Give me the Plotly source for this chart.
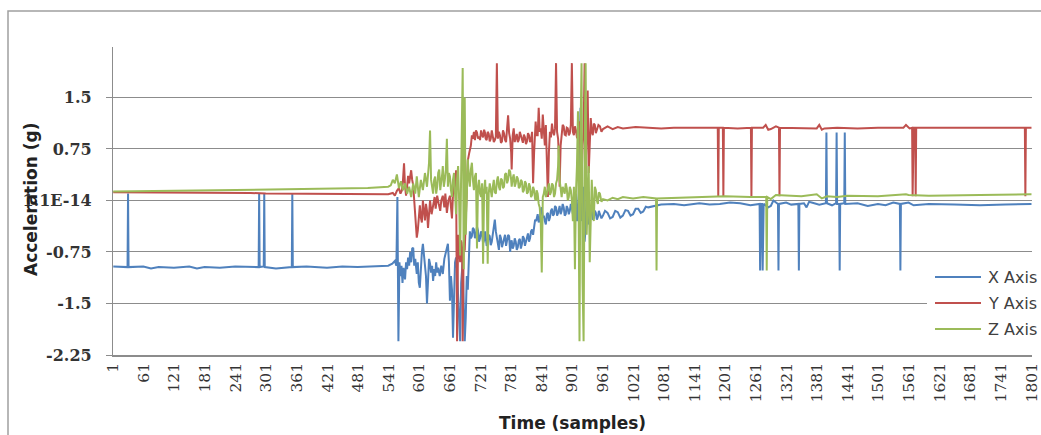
import plotly.graph_objects as go

# ---- data: (sample index, acceleration g) ----
X_AXIS = [
    (1, -0.96), (29, -0.97), (30, 0.1), (31, -0.97), (60, -0.96), (75, -0.99), (90, -0.97),
    (120, -0.98), (150, -0.96), (165, -0.99), (180, -0.97), (210, -0.98), (240, -0.96),
    (270, -0.97), (286, -0.97), (287, 0.1), (288, -0.97), (296, -0.96), (297, 0.1), (298, -0.97),
    (320, -0.99), (351, -0.97), (352, 0.1), (353, -0.97), (380, -0.96), (420, -0.98),
    (450, -0.96), (480, -0.97), (510, -0.96), (540, -0.95), (548, -0.92), (553, -0.88),
    (556, -0.95), (558, 0.05), (560, -2.05), (562, -0.9), (564, -1.1), (566, -0.95),
    (568, -1.2), (570, -0.98), (573, -1.15), (575, -0.9), (577, -1.0), (579, -0.83),
    (581, -0.95), (583, -0.75), (585, -0.9), (587, -0.7), (589, -0.69), (591, -0.95),
    (593, -0.85), (596, -1.07), (598, -0.9), (600, -1.2), (602, -1.27), (604, -0.9),
    (606, -0.75), (608, -0.63), (610, -0.8), (612, -0.88), (614, -1.1), (616, -1.5),
    (618, -1.0), (620, -0.85), (622, -0.92), (624, -1.05), (626, -0.95), (628, -1.17),
    (630, -1.0), (632, -1.1), (634, -0.9), (636, -1.05), (638, -0.98), (641, -1.1),
    (644, -0.95), (647, -1.07), (650, -0.85), (653, -0.75), (655, -0.7), (657, -0.63),
    (659, -0.9), (661, -1.46), (663, -1.1), (665, -1.3), (667, -2.0), (669, -1.2),
    (671, -0.9), (673, -0.83), (675, -1.0), (677, -1.4), (679, -1.7), (681, -2.05),
    (683, -1.2), (686, -0.88), (688, -1.5), (690, -2.05), (692, -1.7), (694, -1.1),
    (696, -1.3), (698, -0.8), (700, -0.45), (702, -0.55), (704, -0.52), (706, -0.4),
    (708, -0.42), (710, -0.55), (712, -0.5), (714, -0.38), (716, -0.44), (718, -0.6),
    (720, -0.55), (722, -0.45), (724, -0.48), (726, -0.62), (728, -0.58), (730, -0.45),
    (731, -0.5), (733, -0.66), (735, -0.62), (737, -0.5), (739, -0.52), (741, -0.65),
    (743, -0.6), (745, -0.48), (747, -0.4), (749, -0.28), (751, -0.45), (753, -0.55),
    (755, -0.6), (757, -0.72), (759, -0.5), (761, -0.55), (763, -0.68), (765, -0.62),
    (767, -0.52), (769, -0.5), (771, -0.66), (773, -0.6), (775, -0.5), (777, -0.52),
    (779, -0.75), (781, -0.6), (782, -0.58), (784, -0.7), (786, -0.66), (788, -0.55),
    (790, -0.6), (792, -0.72), (794, -0.68), (796, -0.58), (798, -0.56), (800, -0.7),
    (802, -0.64), (804, -0.52), (806, -0.55), (808, -0.66), (810, -0.6), (812, -0.5),
    (814, -0.48), (816, -0.6), (818, -0.55), (820, -0.45), (822, -0.42), (824, -0.5),
    (826, -0.38), (828, -0.28), (830, -0.3), (833, -0.2), (835, -0.32), (837, -0.28),
    (839, -0.15), (841, -0.1), (843, -0.25), (845, -0.22), (847, -0.3), (849, -0.35),
    (851, -0.2), (853, -0.18), (855, -0.3), (857, -0.25), (859, -0.15), (861, -0.12),
    (863, -0.22), (865, -0.2), (867, -0.08), (869, -0.1), (871, -0.22), (873, -0.18),
    (876, -0.08), (878, -0.2), (880, -0.15), (882, -0.05), (884, -0.1), (886, -0.22),
    (888, -0.2), (890, -0.08), (892, -0.12), (894, -0.2), (896, -0.15), (898, -0.05),
    (900, -0.1), (902, -0.2), (904, -0.05), (906, 0.05), (908, 0.1), (910, -0.3),
    (912, -0.2), (914, 0.2), (915, 0.6), (917, 1.35), (919, -0.3), (921, 0.0), (923, 0.2),
    (925, -0.6), (927, -0.4), (929, 0.1), (931, -0.1), (933, -0.35), (935, -0.3),
    (937, -0.1), (939, -0.15), (941, -0.28), (943, -0.25), (945, -0.15), (947, -0.18),
    (949, -0.28), (951, -0.24), (953, -0.15), (955, -0.2), (958, -0.26), (961, -0.22),
    (965, -0.15), (970, -0.18), (975, -0.26), (980, -0.24), (985, -0.15), (990, -0.17),
    (995, -0.25), (1000, -0.22), (1005, -0.14), (1010, -0.15), (1015, -0.22), (1020, -0.2),
    (1025, -0.12), (1030, -0.12), (1035, -0.18), (1040, -0.16), (1045, -0.09), (1050, -0.1),
    (1060, -0.08), (1075, -0.06), (1100, -0.05), (1120, -0.07), (1150, -0.04),
    (1170, -0.06), (1190, -0.05), (1210, -0.03), (1230, -0.04), (1250, -0.07),
    (1268, -0.05), (1269, -1.02), (1271, -0.05), (1273, -0.05), (1274, -1.02), (1276, -0.05),
    (1285, -0.1), (1290, -0.08), (1295, 0.0), (1304, -0.05), (1305, -1.02), (1306, -0.05),
    (1320, -0.03), (1330, -0.06), (1344, -0.05), (1345, -1.02), (1346, -0.05), (1355, -0.04),
    (1360, -0.1), (1365, -0.02), (1370, -0.03), (1385, -0.06), (1398, -0.04), (1399, 0.99),
    (1400, -0.04), (1410, -0.07), (1418, -0.04), (1419, 0.99), (1420, -0.05),
    (1424, -0.05), (1425, -1.02), (1426, -0.05), (1434, -0.04), (1435, 0.99), (1436, -0.05),
    (1460, -0.04), (1480, -0.08), (1500, -0.05), (1515, -0.07), (1530, -0.03),
    (1543, -0.05), (1544, -1.02), (1545, -0.05), (1560, -0.03), (1570, -0.07),
    (1600, -0.05), (1650, -0.06), (1700, -0.07), (1750, -0.06), (1801, -0.05),
]

Y_AXIS = [
    (1, 0.12), (100, 0.12), (200, 0.11), (270, 0.11), (300, 0.1), (400, 0.1), (500, 0.1),
    (540, 0.09), (549, 0.11), (553, 0.07), (557, 0.14), (561, 0.18), (564, 0.1),
    (567, 0.15), (569, 0.3), (571, 0.54), (573, 0.2), (575, 0.07), (577, 0.2), (579, 0.36),
    (581, 0.25), (583, 0.38), (585, 0.44), (587, 0.3), (589, 0.22), (591, 0.0),
    (593, -0.22), (595, -0.4), (596, -0.54), (598, -0.44), (600, -0.2), (602, -0.07),
    (604, -0.25), (606, -0.32), (608, 0.0), (610, -0.15), (612, -0.29), (614, -0.05),
    (616, -0.15), (618, -0.4), (620, -0.1), (622, 0.0), (625, -0.2), (628, -0.1),
    (631, 0.05), (633, -0.12), (636, 0.07), (639, -0.05), (642, -0.15), (644, 0.0),
    (647, 0.07), (650, -0.1), (652, 0.1), (655, -0.18), (658, 0.0), (661, 0.07),
    (663, -0.1), (665, -0.26), (667, 0.1), (669, 0.32), (671, 0.2), (673, 0.44),
    (675, -2.05), (677, -0.5), (679, -0.66), (681, -0.9), (683, -0.58), (685, -0.8),
    (686, -2.05), (688, -0.6), (690, -0.73), (692, -0.2), (694, 0.3), (696, 0.58),
    (699, 0.7), (702, 0.8), (704, 0.95), (706, 0.9), (708, 1.0), (710, 0.88), (712, 1.02),
    (714, 0.99), (716, 0.9), (718, 0.93), (720, 0.88), (722, 1.02), (724, 0.95),
    (726, 0.92), (728, 1.03), (730, 0.98), (731, 0.9), (733, 0.88), (735, 1.0), (737, 0.97),
    (739, 0.86), (741, 0.9), (743, 1.02), (745, 0.95), (747, 0.85), (749, 0.88),
    (751, 0.93), (753, 2.0), (755, 0.9), (757, 1.0), (759, 0.95), (761, 0.84), (763, 0.86),
    (765, 1.02), (767, 0.98), (769, 0.88), (771, 0.85), (773, 1.05), (775, 1.24),
    (777, 0.98), (779, 0.9), (781, 0.7), (782, 0.45), (784, 0.95), (786, 1.05), (788, 0.85),
    (790, 0.92), (792, 0.97), (794, 0.85), (796, 0.88), (798, 1.0), (800, 0.95),
    (802, 0.87), (804, 0.84), (806, 0.96), (808, 0.92), (810, 0.82), (812, 0.86),
    (814, 0.98), (816, 0.95), (818, 0.85), (820, 0.88), (822, 1.0), (824, 0.25),
    (826, 0.7), (827, 0.9), (829, 1.15), (831, 0.95), (833, 0.95), (835, 1.35), (837, 1.0),
    (839, 1.05), (841, 0.9), (843, 1.25), (845, 1.0), (847, 0.8), (849, 1.1), (851, 0.6),
    (853, 0.05), (855, 0.7), (857, 1.0), (859, 0.92), (861, 1.12), (863, 1.0), (865, 0.95),
    (867, 1.05), (869, 2.0), (871, 1.0), (873, 0.9), (875, 0.6), (876, 0.2), (878, 0.8),
    (880, 1.0), (882, 1.1), (884, 1.08), (886, 0.96), (888, 0.95), (890, 1.06),
    (892, 1.05), (894, 0.95), (896, 0.98), (898, 1.1), (900, 2.0), (902, 1.0), (904, 0.95),
    (906, 1.08), (908, 1.02), (910, 0.92), (912, 0.9), (914, 1.15), (915, 1.1), (917, 0.7),
    (919, 0.3), (921, 0.8), (923, 1.0), (925, 2.0), (927, 0.45), (929, 1.0), (931, 1.6),
    (933, 0.4), (935, 0.9), (937, 1.2), (939, 1.0), (941, 0.95), (943, 1.12), (945, 1.1),
    (947, 0.98), (949, 1.02), (952, 1.1), (955, 1.08), (958, 1.0), (961, 1.04),
    (970, 1.08), (980, 1.04), (990, 1.07), (1000, 1.05), (1025, 1.07), (1050, 1.06),
    (1075, 1.05), (1100, 1.06), (1150, 1.06), (1186, 1.06), (1187, 0.06), (1188, 1.06),
    (1196, 1.06), (1197, 0.06), (1198, 1.06), (1225, 1.05), (1251, 1.06), (1252, 0.06),
    (1253, 1.06), (1275, 1.06), (1280, 1.1), (1285, 1.03), (1290, 1.04), (1300, 1.08),
    (1306, 1.06), (1307, 0.06), (1308, 1.06), (1350, 1.06), (1380, 1.05), (1385, 1.1),
    (1390, 1.03), (1395, 1.05), (1420, 1.06), (1460, 1.05), (1500, 1.06), (1550, 1.06),
    (1555, 1.1), (1562, 1.05), (1567, 1.06), (1568, 0.06), (1570, 1.06), (1573, 1.06),
    (1574, 0.06), (1575, 1.06), (1650, 1.06), (1700, 1.05), (1788, 1.06), (1789, 0.06),
    (1790, 1.06), (1801, 1.06),
]

Z_AXIS = [
    (1, 0.13), (100, 0.14), (200, 0.14), (270, 0.15), (300, 0.16), (400, 0.17), (500, 0.18),
    (540, 0.2), (545, 0.22), (549, 0.3), (553, 0.25), (557, 0.38), (561, 0.18), (565, 0.28),
    (569, 0.15), (573, 0.25), (577, 0.1), (581, 0.2), (585, 0.05), (589, 0.25), (593, 0.1),
    (596, 0.35), (600, 0.05), (604, 0.3), (608, 0.15), (612, 0.4), (616, 0.2), (620, 0.55),
    (622, 1.02), (624, 0.3), (626, 0.15), (628, 0.1), (630, 0.3), (632, 0.35), (634, 0.1),
    (636, 0.2), (638, 0.4), (640, 0.45), (642, 0.15), (644, 0.25), (646, 0.4), (647, 0.5),
    (649, 0.2), (651, 0.3), (653, 0.45), (655, 0.9), (657, 0.2), (659, 0.4), (661, 0.35),
    (663, 0.15), (665, 0.05), (667, 0.3), (669, 0.4), (671, 0.1), (673, -0.2), (675, 0.3),
    (677, 0.5), (679, 0.0), (681, -0.8), (683, 0.4), (684, 1.2), (686, 1.93), (688, -1.0),
    (690, 1.5), (692, -0.5), (694, 0.3), (696, 0.6), (698, 0.35), (700, 0.2), (702, 0.45),
    (704, 0.55), (706, 0.3), (708, 0.15), (710, 0.35), (712, 0.4), (714, -0.7), (716, 0.2),
    (718, 0.3), (720, 0.1), (722, 0.05), (724, 0.25), (726, -0.92), (728, 0.15), (730, 0.3),
    (731, 0.1), (733, 0.2), (735, -0.92), (737, 0.1), (739, 0.25), (741, 0.15), (743, 0.05),
    (745, 0.2), (747, 0.3), (749, 0.12), (751, 0.1), (753, 0.28), (755, 0.35), (757, 0.2),
    (759, 0.15), (761, 0.32), (763, 0.3), (765, 0.18), (767, 0.2), (769, 0.38), (771, 0.4),
    (773, 0.25), (775, 0.3), (777, 0.45), (779, 0.42), (781, 0.3), (782, 0.2), (784, 0.32),
    (786, 0.38), (788, 0.2), (790, 0.25), (792, 0.35), (794, 0.32), (796, 0.18),
    (798, 0.2), (800, 0.3), (802, 0.28), (804, 0.12), (806, 0.15), (808, 0.28), (810, 0.25),
    (812, 0.1), (814, 0.12), (816, 0.25), (818, 0.2), (820, 0.05), (822, 0.08), (824, 0.2),
    (826, 0.15), (828, 0.02), (830, 0.0), (831, 0.15), (833, 0.1), (835, -0.05),
    (837, -0.1), (839, -0.3), (841, -1.05), (843, 0.05), (845, 0.1), (847, 0.2), (849, 0.05),
    (851, 0.1), (853, 0.2), (855, 0.25), (857, 0.08), (859, 0.12), (861, 0.25), (863, 0.22),
    (865, 0.05), (867, 0.1), (869, 0.25), (871, 0.3), (873, 0.5), (874, 0.8), (876, 0.3),
    (878, 0.15), (880, 0.05), (882, 0.2), (884, 0.15), (886, 0.1), (888, 0.25), (890, 0.18),
    (892, 0.0), (894, 0.05), (896, 0.2), (898, 0.15), (900, 0.0), (902, -0.3), (904, 0.2),
    (906, -1.0), (908, 0.1), (910, 0.5), (912, 1.3), (914, -1.5), (915, -2.05), (917, 1.0),
    (919, 2.0), (921, -1.2), (923, -2.05), (925, 0.6), (927, 2.0), (929, -0.5), (931, 0.2),
    (933, 0.5), (935, -0.9), (937, 0.0), (939, 0.3), (941, -0.1), (943, -0.3), (945, 0.2),
    (947, 0.15), (949, 0.0), (951, -0.05), (953, 0.12), (955, 0.1), (958, -0.02),
    (961, 0.02), (970, 0.0), (980, 0.04), (990, 0.02), (1000, 0.05), (1020, 0.03),
    (1040, 0.05), (1065, 0.03), (1066, -1.02), (1067, 0.03), (1100, 0.04), (1150, 0.05),
    (1200, 0.06), (1250, 0.05), (1281, 0.05), (1282, -1.02), (1283, 0.05), (1290, 0.02),
    (1300, 0.08), (1350, 0.06), (1380, 0.09), (1390, 0.03), (1400, 0.06), (1420, 0.05),
    (1440, 0.07), (1500, 0.06), (1555, 0.09), (1560, 0.08), (1600, 0.07), (1700, 0.08),
    (1801, 0.09),
]

SERIES_NAMES = ["X Axis", "Y Axis", "Z Axis"]
SERIES_COLORS = ["#4F81BD", "#C0504D", "#9BBB59"]

X_TICKS = list(range(1, 1802, 60))
Y_TICKS = [-2.25, -1.5, -0.75, 0.0, 0.75, 1.5]
Y_TICK_TEXT = ["-2.25", "-1.5", "-0.75", "1.1E-14", "0.75", "1.5"]

W, H = 1041, 435
L, R, T, B = 113, 9, 47, 80
PW, PH = W - L - R, H - T - B


def px(x):
    return (x - L) / PW


def py(y):
    return (H - B - y) / PH


fig = go.Figure()
for name, color, pts in zip(SERIES_NAMES, SERIES_COLORS, [X_AXIS, Y_AXIS, Z_AXIS]):
    s, v = zip(*pts)
    fig.add_trace(go.Scatter(x=list(s), y=list(v), mode="lines", name=name,
                             line=dict(color=color, width=2)))

# legend drawn in paper space so it can run off the right edge like the original
shapes = [
    dict(type="rect", xref="paper", yref="paper",
         x0=px(8), x1=px(1050), y0=py(445), y1=py(11),
         line=dict(color="#a0a0a0", width=1.5), fillcolor="rgba(0,0,0,0)"),
    dict(type="rect", xref="paper", yref="paper", layer="above",
         x0=px(927), x1=px(1045), y0=py(345), y1=py(263),
         line=dict(width=0), fillcolor="white"),
]
annotations = [
    dict(text="<b>Acceleration (g)</b>", xref="paper", yref="paper",
         x=px(31), y=py(200), xanchor="center", yanchor="middle", textangle=-90,
         showarrow=False, font=dict(family="DejaVu Sans", size=17, color="#222222")),
    dict(text="<b>Time (samples)</b>", xref="paper", yref="paper",
         x=px(572), y=py(423), xanchor="center", yanchor="middle",
         showarrow=False, font=dict(family="DejaVu Sans", size=17, color="#222222")),
]
for i, (name, color) in enumerate(zip(SERIES_NAMES, SERIES_COLORS)):
    yy = 277 + 26 * i
    shapes.append(dict(type="line", xref="paper", yref="paper", layer="above",
                       x0=px(935), x1=px(981), y0=py(yy), y1=py(yy),
                       line=dict(color=color, width=2)))
    annotations.append(dict(text=name, xref="paper", yref="paper",
                            x=px(986), y=py(yy), xanchor="left", yanchor="middle",
                            showarrow=False,
                            font=dict(family="DejaVu Sans", size=16, color="#404040")))

fig.update_layout(
    width=W, height=H,
    margin=dict(l=L, r=R, t=T, b=B, autoexpand=False),
    paper_bgcolor="white", plot_bgcolor="white",
    showlegend=False,
    xaxis=dict(range=[0.5, 1802], tickvals=X_TICKS, ticktext=[str(t) for t in X_TICKS],
               tickangle=-90, showgrid=False, zeroline=False, showline=True,
               automargin=False,
               linecolor="#8c8c8c", linewidth=1.5, ticks="",
               tickfont=dict(family="DejaVu Serif", size=15.5, color="#333333")),
    yaxis=dict(range=[-2.25, 2.235], tickvals=Y_TICKS, ticktext=Y_TICK_TEXT,
               showgrid=True, gridcolor="#8c8c8c", gridwidth=1, zeroline=False,
               showline=True, linecolor="#8c8c8c", linewidth=1.2, automargin=False,
               ticks="outside", ticklen=6, tickcolor="#8c8c8c", ticklabelstandoff=11,
               tickfont=dict(family="DejaVu Serif", size=16, color="#333333", weight="bold")),
    shapes=shapes,
    annotations=annotations,
)

fig.write_html("out.html", config={"displayModeBar": False},
               post_script="document.body.style.margin='0px';document.body.style.overflow='hidden';")
